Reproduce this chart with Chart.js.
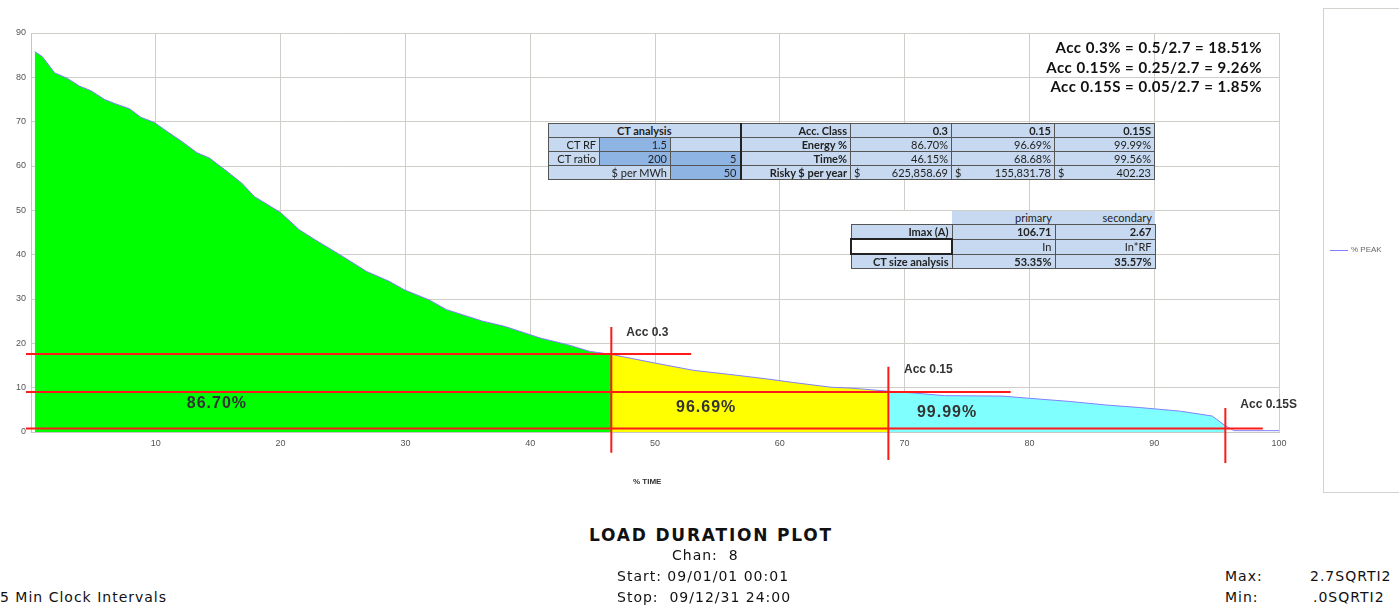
<!DOCTYPE html>
<html lang="en">
<head>
  <meta charset="UTF-8">
  <script src="https://cdn.jsdelivr.net/npm/chart.js@4.4.0/dist/chart.umd.min.js"></script>
  <title>Load Duration Plot</title>
  <style>
    body { margin: 0; width: 1399px; height: 606px; background: #fff; position: relative; overflow: hidden; }
    .chart-box { position: absolute; left: 0; top: 0; width: 1320px; height: 500px; }
    .abs { position: absolute; white-space: nowrap; }
    .formula { right: 137px; top: 38px; text-align: right; font: bold 15px Lato, sans-serif; letter-spacing: 0.5px; line-height: 19.5px; color: #111; }
    table.xl { position: absolute; border-collapse: collapse; table-layout: fixed; font: 11px Lato, sans-serif; color: #222; }
    table.xl td { height: 13px; padding: 0 3px; border: 1px solid #555; background: #c6d9f0; text-align: right; overflow: hidden; }
    table.xl td.b { font-weight: bold; }
    table.xl td.mid { background: #8eb4e3; }
    table.xl td.c { text-align: center; }
    table.xl td.thick { border-left: 2px solid #222; }
    table.xl td.none { border: none; }
    table.xl td.white { background: #fff; }
    .money { display: flex; justify-content: space-between; }
    .legend { left: 1323px; top: 8px; width: 90px; height: 483px; border: 1px solid #d4d2cc; }
    .legend span { position: absolute; left: 27px; top: 236px; font: 8px Arial, sans-serif; color: #666; }
    .legend i { position: absolute; left: 6px; top: 241px; width: 18px; border-top: 1px solid #8080ff; }
    .foot { font: 14px "DejaVu Sans", sans-serif; letter-spacing: 1px; color: #111; }
  </style>
</head>
<body>
  <div class="chart-box"><canvas id="ldc"></canvas></div>

  <div class="abs formula">Acc 0.3% = 0.5/2.7 = 18.51%<br>Acc 0.15% = 0.25/2.7 = 9.26%<br>Acc 0.15S = 0.05/2.7 = 1.85%</div>

  <table class="xl" style="left:548px; top:123px; width:606px;">
    <colgroup><col style="width:51px"><col style="width:71px"><col style="width:70px"><col style="width:110px"><col style="width:101px"><col style="width:103px"><col style="width:100px"></colgroup>
    <tr><td class="b c" colspan="3">CT analysis</td><td class="b thick">Acc. Class</td><td class="b">0.3</td><td class="b">0.15</td><td class="b">0.15S</td></tr>
    <tr><td>CT RF</td><td class="mid">1.5</td><td></td><td class="b thick">Energy %</td><td>86.70%</td><td>96.69%</td><td>99.99%</td></tr>
    <tr><td>CT ratio</td><td class="mid">200</td><td class="mid">5</td><td class="b thick">Time%</td><td>46.15%</td><td>68.68%</td><td>99.56%</td></tr>
    <tr><td colspan="2">$ per MWh</td><td class="mid">50</td><td class="b thick">Risky $ per year</td><td><div class="money"><span>$</span><span>625,858.69</span></div></td><td><div class="money"><span>$</span><span>155,831.78</span></div></td><td><div class="money"><span>$</span><span>402.23</span></div></td></tr>
  </table>

  <table class="xl" style="left:850px; top:211px; width:304px;">
    <colgroup><col style="width:101px"><col style="width:103px"><col style="width:100px"></colgroup>
    <tr><td class="none white"></td><td class="none">primary</td><td class="none">secondary</td></tr>
    <tr><td class="b">Imax (A)</td><td class="b">106.71</td><td class="b">2.67</td></tr>
    <tr><td class="white" style="border:2px solid #222"></td><td>In</td><td>In*RF</td></tr>
    <tr><td class="b">CT size analysis</td><td class="b">53.35%</td><td class="b">35.57%</td></tr>
  </table>

  <div class="abs" style="left:633px; top:477px; font:bold 8px Arial, sans-serif; color:#333;">% TIME</div>

  <div class="abs legend"><i></i><span>% PEAK</span></div>

  <div class="abs" style="left:0; width:1422px; top:525px; text-align:center; font:bold 17px 'DejaVu Sans', sans-serif; letter-spacing:1.8px; color:#111;">LOAD DURATION PLOT</div>
  <div class="abs foot" style="left:672px; top:547px;">Chan:&nbsp; 8</div>
  <div class="abs foot" style="left:617px; top:568px;">Start: 09/01/01 00:01</div>
  <div class="abs foot" style="left:617px; top:589px;">Stop:&nbsp; 09/12/31 24:00</div>
  <div class="abs foot" style="left:0; top:589px;">5 Min Clock Intervals</div>
  <div class="abs foot" style="left:1225px; top:568px;">Max:</div>
  <div class="abs foot" style="left:1310px; top:568px;">2.7SQRTI2</div>
  <div class="abs foot" style="left:1225px; top:589px;">Min:</div>
  <div class="abs foot" style="left:1313px; top:589px;">.0SQRTI2</div>

  <script>
    // % TIME vs % PEAK
    const pctTime = [0.3, 0.9, 1.9, 2.9, 3.9, 4.8, 5.9, 6.8, 7.9, 8.8, 9.9, 10.9, 12.1, 13.3, 14.3, 15.7, 16.9, 17.9, 20, 21.5, 22.8, 24.75, 26.9, 28.7, 29.9, 31.9, 33.3, 36.2, 38, 40.8, 43, 44.75, 46.5, 49.9, 53.1, 55.65, 58.9, 61, 64.1, 65.7, 68.7, 70.7, 73.2, 77.8, 80, 83.2, 86.1, 88.9, 92.1, 94.65, 95.7, 96.4, 100];
    const pctPeak = [85.8, 84.7, 81, 79.8, 78, 77, 75, 74, 72.9, 71, 69.8, 67.8, 65.5, 63, 61.8, 58.8, 56.1, 53.1, 49.5, 45.6, 43.3, 40, 36.2, 34, 32.1, 29.8, 27.6, 25, 23.8, 21.2, 19.7, 18.2, 17.5, 15.6, 13.9, 13.1, 12, 11.2, 10.1, 9.9, 9.2, 8.8, 8.2, 8.1, 7.6, 6.9, 6.1, 5.5, 4.7, 3.6, 1.4, 0.3, 0.3];

    // accuracy class zones: time where each zone ends, and the level lines
    const accNames = ['Acc 0.3', 'Acc 0.15', 'Acc 0.15S'];
    const accTime = [46.5, 68.7, 95.7];
    const accLevel = [17.6, 9.0, 0.8];
    const accLineEnd = [52.9, 78.5, 98.7];
    const accLineTop = [23.7, 14.7, 5.4];
    const accLineBottom = [-4.7, -6.3, -7];
    const zoneColors = ['#00ff00', '#ffff00', '#80ffff'];
    const zoneEnergy = ['86.70%', '96.69%', '99.99%'];
    const zoneLabelX = [14.9, 54.1, 73.4];
    const zoneLabelY = [6.3, 5.4, 4.3];
    const accLabelX = [47.7, 69.95, 96.9];
    const accLabelY = [22.3, 14, 6.1];

    const points = pctTime.map((x, i) => ({ x: x, y: pctPeak[i] }));

    function zonePoints(from, to) {
      return points.filter(p => p.x >= from && p.x <= to);
    }

    const zoneSets = zoneColors.map((c, i) => ({
      label: 'zone' + i,
      data: zonePoints(i === 0 ? 0 : accTime[i - 1], accTime[i]),
      backgroundColor: c,
      borderWidth: 0,
      pointRadius: 0,
      fill: 'origin'
    }));

    const annotate = {
      id: 'annotate',
      afterDatasetsDraw(chart) {
        const ctx = chart.ctx;
        const xs = chart.scales.x, ys = chart.scales.y;
        ctx.save();
        ctx.strokeStyle = '#ff1a1a';
        ctx.lineWidth = 2;
        for (let i = 0; i < accTime.length; i++) {
          ctx.beginPath();
          ctx.moveTo(xs.getPixelForValue(-0.4), ys.getPixelForValue(accLevel[i]));
          ctx.lineTo(xs.getPixelForValue(accLineEnd[i]), ys.getPixelForValue(accLevel[i]));
          ctx.moveTo(xs.getPixelForValue(accTime[i]), ys.getPixelForValue(accLineTop[i]));
          ctx.lineTo(xs.getPixelForValue(accTime[i]), ys.getPixelForValue(accLineBottom[i]));
          ctx.stroke();
        }
        ctx.fillStyle = '#333';
        ctx.textBaseline = 'middle';
        ctx.font = 'bold 12px Arial, "Liberation Sans", sans-serif';
        ctx.textAlign = 'left';
        accNames.forEach((t, i) => ctx.fillText(t, xs.getPixelForValue(accLabelX[i]), ys.getPixelForValue(accLabelY[i])));
        ctx.font = 'bold 16px Arial, "Liberation Sans", sans-serif';
        ctx.letterSpacing = '1px';
        ctx.textAlign = 'center';
        zoneEnergy.forEach((t, i) => ctx.fillText(t, xs.getPixelForValue(zoneLabelX[i]), ys.getPixelForValue(zoneLabelY[i])));
        ctx.restore();
      }
    };

    new Chart(document.getElementById('ldc'), {
      type: 'line',
      data: {
        datasets: [{
          label: '% PEAK',
          data: points,
          borderColor: '#8080ff',
          borderWidth: 1,
          pointRadius: 0,
          fill: false
        }].concat(zoneSets)
      },
      options: {
        responsive: true,
        maintainAspectRatio: false,
        animation: false,
        layout: { padding: { left: 0, top: 33, right: 41, bottom: 0 } },
        plugins: { legend: { display: false }, tooltip: { enabled: false } },
        scales: {
          x: {
            type: 'linear',
            min: 0,
            max: 100,
            afterFit: s => { s.height = 68; },
            ticks: {
              stepSize: 10,
              color: '#555',
              font: { size: 9, family: 'Arial' },
              padding: 6,
              maxRotation: 0,
              callback: v => v === 0 ? '' : v
            },
            grid: { color: '#d0cec9', drawTicks: false },
            border: { color: '#c8c6c0' }
          },
          y: {
            min: 0,
            max: 90,
            afterFit: s => { s.width = 31; },
            ticks: {
              stepSize: 10,
              color: '#555',
              font: { size: 9, family: 'Arial' },
              padding: 5
            },
            grid: { color: '#d0cec9', drawTicks: false },
            border: { color: '#c8c6c0' }
          }
        }
      },
      plugins: [annotate]
    });
  </script>
</body>
</html>
